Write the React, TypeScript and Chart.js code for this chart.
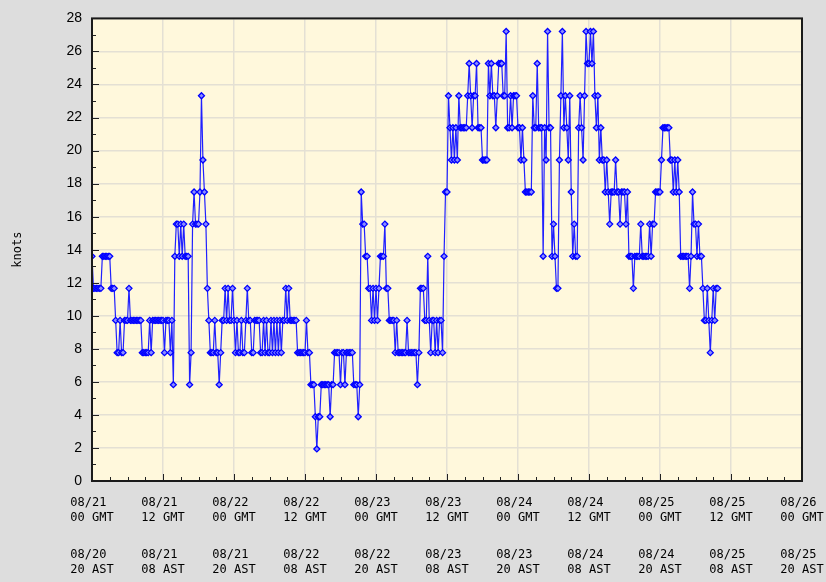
import React, { useEffect, useRef } from 'react';
import { Chart, registerables } from 'chart.js';

Chart.register(...registerables);

// Wind speed (knots), one reading every 15 minutes starting 08/21 00 GMT
const windKnots: number[] = [
  13.6, 11.66, 11.66, 11.66,
  11.66, 11.66, 11.66, 13.6,
  13.6, 13.6, 13.6, 13.6,
  13.6, 11.66, 11.66, 11.66,
  9.72, 7.77, 7.77, 9.72,
  7.77, 7.77, 9.72, 9.72,
  9.72, 11.66, 9.72, 9.72,
  9.72, 9.72, 9.72, 9.72,
  9.72, 9.72, 7.77, 7.77,
  7.77, 7.77, 7.77, 9.72,
  7.77, 9.72, 9.72, 9.72,
  9.72, 9.72, 9.72, 9.72,
  9.72, 7.77, 9.72, 9.72,
  9.72, 7.77, 9.72, 5.83,
  13.6, 15.55, 15.55, 13.6,
  15.55, 13.6, 15.55, 13.6,
  13.6, 13.6, 5.83, 7.77,
  15.55, 17.49, 15.55, 15.55,
  15.55, 17.49, 23.32, 19.43,
  17.49, 15.55, 11.66, 9.72,
  7.77, 7.77, 7.77, 9.72,
  7.77, 7.77, 5.83, 7.77,
  9.72, 9.72, 11.66, 9.72,
  11.66, 9.72, 9.72, 11.66,
  9.72, 7.77, 9.72, 7.77,
  7.77, 9.72, 7.77, 7.77,
  9.72, 11.66, 9.72, 9.72,
  7.77, 7.77, 9.72, 9.72,
  9.72, 9.72, 7.77, 7.77,
  9.72, 7.77, 9.72, 7.77,
  7.77, 9.72, 7.77, 9.72,
  7.77, 9.72, 7.77, 9.72,
  7.77, 9.72, 9.72, 11.66,
  9.72, 11.66, 9.72, 9.72,
  9.72, 9.72, 9.72, 7.77,
  7.77, 7.77, 7.77, 7.77,
  7.77, 9.72, 7.77, 7.77,
  5.83, 5.83, 5.83, 3.89,
  1.94, 3.89, 3.89, 5.83,
  5.83, 5.83, 5.83, 5.83,
  5.83, 3.89, 5.83, 5.83,
  7.77, 7.77, 7.77, 7.77,
  5.83, 7.77, 7.77, 5.83,
  7.77, 7.77, 7.77, 7.77,
  7.77, 5.83, 5.83, 5.83,
  3.89, 5.83, 17.49, 15.55,
  15.55, 13.6, 13.6, 11.66,
  11.66, 9.72, 11.66, 9.72,
  11.66, 9.72, 11.66, 13.6,
  13.6, 13.6, 15.55, 11.66,
  11.66, 9.72, 9.72, 9.72,
  9.72, 7.77, 9.72, 7.77,
  7.77, 7.77, 7.77, 7.77,
  7.77, 9.72, 7.77, 7.77,
  7.77, 7.77, 7.77, 7.77,
  5.83, 7.77, 11.66, 11.66,
  11.66, 9.72, 9.72, 13.6,
  9.72, 7.77, 9.72, 9.72,
  7.77, 9.72, 7.77, 9.72,
  9.72, 7.77, 13.6, 17.49,
  17.49, 23.32, 21.38, 19.43,
  21.38, 19.43, 21.38, 19.43,
  23.32, 21.38, 21.38, 21.38,
  21.38, 21.38, 23.32, 25.27,
  23.32, 21.38, 23.32, 23.32,
  25.27, 21.38, 21.38, 21.38,
  19.43, 19.43, 19.43, 19.43,
  25.27, 23.32, 25.27, 23.32,
  23.32, 21.38, 23.32, 25.27,
  25.27, 25.27, 23.32, 23.32,
  27.21, 21.38, 21.38, 23.32,
  21.38, 23.32, 23.32, 23.32,
  21.38, 21.38, 19.43, 21.38,
  19.43, 17.49, 17.49, 17.49,
  17.49, 17.49, 23.32, 21.38,
  21.38, 25.27, 21.38, 21.38,
  21.38, 13.6, 21.38, 19.43,
  27.21, 21.38, 21.38, 13.6,
  15.55, 13.6, 11.66, 11.66,
  19.43, 23.32, 27.21, 21.38,
  23.32, 21.38, 19.43, 23.32,
  17.49, 13.6, 15.55, 13.6,
  13.6, 21.38, 23.32, 21.38,
  19.43, 23.32, 27.21, 25.27,
  25.27, 27.21, 25.27, 27.21,
  23.32, 21.38, 23.32, 19.43,
  21.38, 19.43, 19.43, 17.49,
  19.43, 17.49, 15.55, 17.49,
  17.49, 17.49, 19.43, 17.49,
  17.49, 15.55, 17.49, 17.49,
  17.49, 15.55, 17.49, 13.6,
  13.6, 13.6, 11.66, 13.6,
  13.6, 13.6, 13.6, 15.55,
  13.6, 13.6, 13.6, 13.6,
  13.6, 15.55, 13.6, 15.55,
  15.55, 17.49, 17.49, 17.49,
  17.49, 19.43, 21.38, 21.38,
  21.38, 21.38, 21.38, 19.43,
  19.43, 17.49, 19.43, 17.49,
  19.43, 17.49, 13.6, 13.6,
  13.6, 13.6, 13.6, 13.6,
  11.66, 13.6, 17.49, 15.55,
  15.55, 13.6, 15.55, 13.6,
  13.6, 11.66, 9.72, 9.72,
  11.66, 9.72, 7.77, 9.72,
  11.66, 9.72, 11.66, 11.66,
];

const sampleStepHours = 0.25; // hours between readings

// X-axis tick labels (every 12 h from 08/21 00 GMT)
const gmtDates = ['08/21', '08/21', '08/22', '08/22', '08/23', '08/23', '08/24', '08/24', '08/25', '08/25', '08/26'];
const gmtHours = ['00 GMT', '12 GMT', '00 GMT', '12 GMT', '00 GMT', '12 GMT', '00 GMT', '12 GMT', '00 GMT', '12 GMT', '00 GMT'];
const astDates = ['08/20', '08/21', '08/21', '08/22', '08/22', '08/23', '08/23', '08/24', '08/24', '08/25', '08/25'];
const astHours = ['20 AST', '08 AST', '20 AST', '08 AST', '20 AST', '08 AST', '20 AST', '08 AST', '20 AST', '08 AST', '20 AST'];

const yAxisTitle = 'knots';

const framePlugin = {
  id: 'frame',
  beforeDraw(chart: any) {
    const { ctx, chartArea: a } = chart;
    ctx.save();
    ctx.fillStyle = '#fff8dc';
    ctx.fillRect(a.left, a.top, a.right - a.left, a.bottom - a.top);
    ctx.restore();
  },
  afterDraw(chart: any) {
    const { ctx, chartArea: a, scales } = chart;
    const xs = scales.x;
    const ys = scales.y;
    ctx.save();
    ctx.strokeStyle = '#222';
    ctx.lineWidth = 1;
    ctx.beginPath();
    for (let v = ys.min; v <= ys.max; v += 1) {
      const py = Math.round(ys.getPixelForValue(v)) + 0.5;
      const len = v % 2 === 0 ? 7 : 4;
      ctx.moveTo(a.left, py);
      ctx.lineTo(a.left + len, py);
    }
    for (let h = xs.min; h <= xs.max; h += 3) {
      const px = Math.round(xs.getPixelForValue(h)) + 0.5;
      const len = h % 12 === 0 ? 7 : 4;
      ctx.moveTo(px, a.bottom);
      ctx.lineTo(px, a.bottom - len);
    }
    ctx.stroke();
    ctx.lineWidth = 2;
    ctx.strokeStyle = '#1a1a1a';
    ctx.strokeRect(a.left, a.top, a.right - a.left, a.bottom - a.top);
    ctx.restore();
  },
};

export default function App() {
  const canvasRef = useRef<HTMLCanvasElement | null>(null);

  useEffect(() => {
    const canvas = canvasRef.current;
    if (!canvas) return;
    const points = windKnots.map((v, i) => ({ x: i * sampleStepHours, y: v }));
    const gridColor = '#e4e0d4';
    const labelFont = { family: 'DejaVu Sans Mono', size: 12, lineHeight: 1.2 };
    const chart = new Chart(canvas, {
      type: 'line',
      data: {
        datasets: [
          {
            data: points,
            borderColor: '#2020ff',
            borderWidth: 1.2,
            pointStyle: 'rectRot',
            pointRadius: 3,
            pointBorderColor: '#0000ff',
            pointBackgroundColor: '#8c8cff',
            pointBorderWidth: 1.3,
            tension: 0,
          },
        ],
      },
      options: {
        animation: false,
        responsive: false,
        maintainAspectRatio: false,
        layout: { padding: { left: 0, top: 13, right: 24, bottom: 0 } },
        plugins: {
          legend: { display: false },
          tooltip: { enabled: false },
          title: { display: false },
        },
        scales: {
          x: {
            type: 'linear',
            position: 'bottom',
            min: 0,
            max: 120,
            weight: 0,
            afterFit: (s: any) => {
              s.height = 48;
              s.paddingLeft = 0;
              s.paddingRight = 0;
            },
            grid: { color: gridColor, lineWidth: 1.5, drawTicks: false },
            border: { display: false },
            ticks: {
              stepSize: 12,
              autoSkip: false,
              maxRotation: 0,
              padding: 15,
              color: '#000',
              font: labelFont,
              callback: (v: any) => {
                const i = Math.round(Number(v) / 12);
                return [gmtDates[i] + ' ', gmtHours[i]];
              },
            },
          },
          x2: {
            type: 'linear',
            axis: 'x',
            position: 'bottom',
            min: 0,
            max: 120,
            weight: 1,
            afterFit: (s: any) => {
              s.height = 53;
              s.paddingLeft = 0;
              s.paddingRight = 0;
            },
            grid: { display: false, drawTicks: false },
            border: { display: false },
            ticks: {
              stepSize: 12,
              autoSkip: false,
              maxRotation: 0,
              padding: 19,
              color: '#000',
              font: labelFont,
              callback: (v: any) => {
                const i = Math.round(Number(v) / 12);
                return [astDates[i] + ' ', astHours[i]];
              },
            },
          },
          y: {
            type: 'linear',
            min: 0,
            max: 28,
            afterFit: (s: any) => {
              s.width = 92;
            },
            grid: { color: gridColor, lineWidth: 1.5, drawTicks: false },
            border: { display: false },
            ticks: {
              stepSize: 2,
              padding: 10,
              color: '#000',
              font: { family: 'Liberation Sans', size: 14 },
            },
            title: {
              display: true,
              text: yAxisTitle,
              color: '#000',
              font: { family: 'DejaVu Sans Mono', size: 12 },
              padding: { top: 11, bottom: 0 },
            },
          },
        },
      } as any,
      plugins: [framePlugin],
    });
    return () => {
      chart.destroy();
    };
  }, []);

  return (
    <div
      style={{
        position: 'fixed',
        left: 0,
        top: 0,
        width: 826,
        height: 582,
        background: '#dddddd',
      }}
    >
      <canvas ref={canvasRef} width={826} height={582} style={{ display: 'block' }} />
    </div>
  );
}
